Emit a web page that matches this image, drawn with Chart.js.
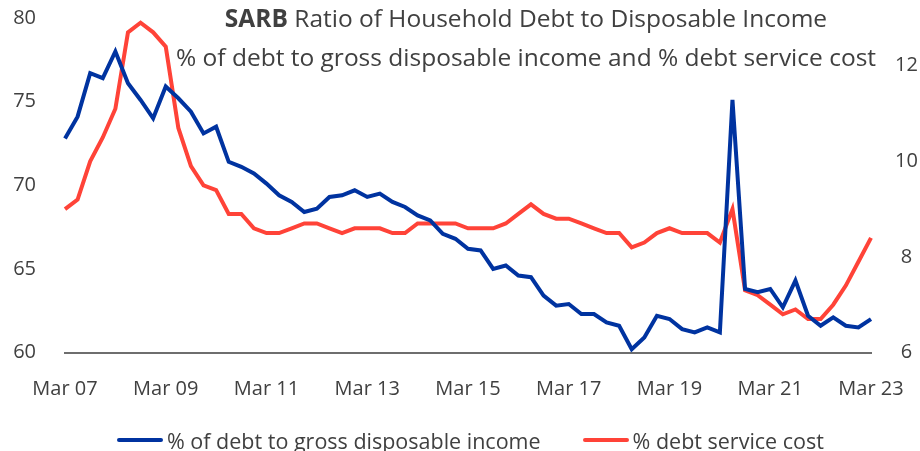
<!DOCTYPE html>
<html>
<head>
<meta charset="utf-8">
<script src="https://cdn.jsdelivr.net/npm/chart.js@4.4.1/dist/chart.umd.min.js"></script>
<style>
  html, body { margin: 0; padding: 0; background: #fff; overflow: hidden; }
  #wrap { position: relative; width: 920px; height: 451px; }
  .chart-title {
    position: absolute; left: 0; width: 1052px; text-align: center;
    font-family: "Open Sans", sans-serif; font-size: 24.5px; line-height: 30px;
    color: #404040; white-space: nowrap;
  }
  #legend {
    position: absolute; left: 117px; top: 425px; height: 30px;
    display: flex; align-items: center;
    font-family: "Open Sans", sans-serif; font-size: 21.5px; color: #404040; white-space: nowrap;
  }
  #legend .item { display: flex; align-items: center; margin-right: 42px; }
  #legend .swatch { display: inline-block; width: 46px; height: 4px; border-radius: 2px; margin-right: 4px; }
</style>
</head>
<body>
<div id="wrap">
  <canvas id="debtChart" width="920" height="451"></canvas>
  <div class="chart-title" style="top:3px"><b>SARB</b> Ratio of Household Debt to Disposable Income</div>
  <div class="chart-title" style="top:42px">% of debt to gross disposable income and % debt service cost</div>
  <div id="legend"></div>
</div>
<script>
/* data: quarterly, Mar 07 - Mar 23 */
const quarterMonths = ['Mar', 'Jun', 'Sep', 'Dec'];
const firstYear = 2007;
const lastYear = 2023;

const debtToIncome = [
  72.8, 74.1, 76.7, 76.4, 78.0, 76.1, 75.1, 74.0, 75.9, 75.2, 74.4, 73.1, 73.5, 71.4, 71.1, 70.7, 70.1,
  69.4, 69.0, 68.4, 68.6, 69.3, 69.4, 69.7, 69.3, 69.5, 69.0, 68.7, 68.2, 67.9, 67.1, 66.8, 66.2,
  66.1, 65.0, 65.2, 64.6, 64.5, 63.4, 62.8, 62.9, 62.3, 62.3, 61.8, 61.6, 60.2, 60.9, 62.2, 62.0,
  61.4, 61.2, 61.5, 61.2, 75.1, 63.8, 63.6, 63.8, 62.7, 64.3, 62.2, 61.6, 62.1, 61.6, 61.5, 62.0
];

const debtServiceCost = [
  9.0, 9.2, 10.0, 10.5, 11.1, 12.7, 12.9, 12.7, 12.4, 10.7, 9.9, 9.5, 9.4, 8.9, 8.9, 8.6, 8.5,
  8.5, 8.6, 8.7, 8.7, 8.6, 8.5, 8.6, 8.6, 8.6, 8.5, 8.5, 8.7, 8.7, 8.7, 8.7, 8.6,
  8.6, 8.6, 8.7, 8.9, 9.1, 8.9, 8.8, 8.8, 8.7, 8.6, 8.5, 8.5, 8.2, 8.3, 8.5, 8.6,
  8.5, 8.5, 8.5, 8.3, 9.0, 7.3, 7.2, 7.0, 6.8, 6.9, 6.7, 6.7, 7.0, 7.4, 7.9, 8.4
];

const leftTicks = [60, 65, 70, 75, 80];
const rightTicks = [6, 8, 10, 12];

// quarter labels
const labels = [];
for (let y = firstYear; y <= lastYear; y++) {
  quarterMonths.forEach(m => {
    if (y === lastYear && m !== 'Mar') return;
    labels.push(m + ' ' + String(y).slice(2));
  });
}

const textColor = '#404040';
const tickFont = { family: 'Open Sans', size: 20 };

const ctx = document.getElementById('debtChart').getContext('2d');
const debtChart = new Chart(ctx, {
  type: 'line',
  data: {
    labels: labels,
    datasets: [{
      label: '% of debt to gross disposable income',
      data: debtToIncome,
      yAxisID: 'y',
      borderColor: '#0033a0',
      backgroundColor: '#0033a0',
      borderWidth: 4,
      pointRadius: 0,
      tension: 0
    }, {
      label: '% debt service cost',
      data: debtServiceCost,
      yAxisID: 'y2',
      borderColor: '#ff4338',
      backgroundColor: '#ff4338',
      borderWidth: 4,
      pointRadius: 0,
      tension: 0
    }]
  },
  options: {
    responsive: false,
    animation: false,
    layout: { padding: { top: 18, left: 0, right: 0, bottom: 38.5 } },
    scales: {
      x: {
        // grid hidden, tickLength used only as label offset
        grid: { display: false, drawTicks: true, tickLength: 25 },
        border: { display: true, color: '#6e6e6e', width: 2 },
        ticks: {
          color: textColor,
          font: tickFont,
          autoSkip: false,
          maxRotation: 0,
          padding: 0,
          callback: function (val, index) {
            return index % 8 === 0 ? this.getLabelForValue(val) : '';
          }
        },
        afterFit: s => { s.height = 60; }
      },
      y: {
        position: 'left',
        min: 60,
        max: 80,
        grid: { display: false, drawTicks: true, tickLength: 29 },
        border: { display: false },
        ticks: { color: textColor, font: tickFont, padding: 0 },
        afterBuildTicks: s => { s.ticks = leftTicks.map(v => ({ value: v })); },
        afterFit: s => { s.width = 65; }
      },
      y2: {
        position: 'right',
        min: 6,
        max: 13,
        grid: { display: false, drawTicks: true, tickLength: 24 },
        border: { display: false },
        ticks: { color: textColor, font: tickFont, padding: 0, crossAlign: 'center' },
        afterBuildTicks: s => { s.ticks = rightTicks.map(v => ({ value: v })); },
        afterFit: s => { s.width = 49; }
      }
    },
    plugins: {
      title: { display: false },
      tooltip: { enabled: false },
      legend: { display: false }
    }
  }
});

// legend built from the chart's datasets
const legendBox = document.getElementById('legend');
debtChart.data.datasets.forEach(ds => {
  const item = document.createElement('div');
  item.className = 'item';
  const sw = document.createElement('span');
  sw.className = 'swatch';
  sw.style.background = ds.borderColor;
  const txt = document.createElement('span');
  txt.textContent = ds.label;
  item.appendChild(sw);
  item.appendChild(txt);
  legendBox.appendChild(item);
});
</script>
</body>
</html>
